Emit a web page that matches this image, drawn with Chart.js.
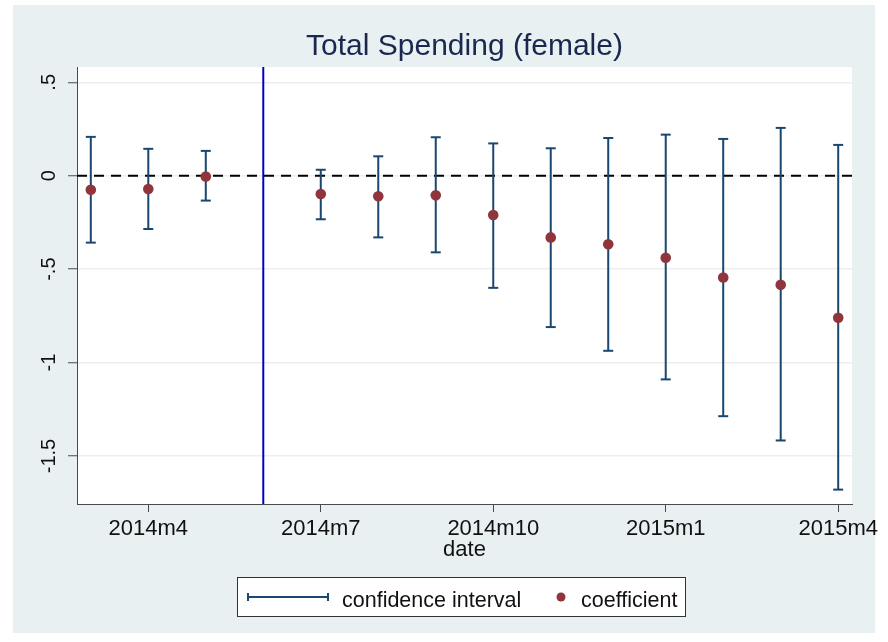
<!DOCTYPE html>
<html>
<head>
<meta charset="utf-8">
<title>Total Spending (female)</title>
<script src="https://cdn.jsdelivr.net/npm/chart.js@4/dist/chart.umd.min.js"></script>
<style>
    html, body { margin: 0; padding: 0; background: #ffffff; overflow: hidden; }
    canvas { display: block; }
</style>
</head>
<body>
<canvas id="grafico" width="888" height="642"></canvas>
<script>
// months 2014m3 .. 2015m4, index = months since 2014m3 (2014m6 is the omitted base month)
var months = ["2014m3", "2014m4", "2014m5", "2014m6", "2014m7", "2014m8", "2014m9",
              "2014m10", "2014m11", "2014m12", "2015m1", "2015m2", "2015m3", "2015m4"];
var coefficient = [-0.075, -0.071, -0.004, null, -0.098, -0.110, -0.105,
                   -0.210, -0.330, -0.367, -0.439, -0.545, -0.584, -0.760];
var ciLow = [-0.358, -0.285, -0.133, null, -0.233, -0.330, -0.410,
             -0.600, -0.810, -0.937, -1.090, -1.287, -1.417, -1.680];
var ciHigh = [0.208, 0.144, 0.133, null, 0.032, 0.104, 0.206,
              0.173, 0.147, 0.202, 0.220, 0.197, 0.256, 0.165];

var xTickValues = [1, 4, 7, 10, 13];
var xTickLabels = ["2014m4", "2014m7", "2014m10", "2015m1", "2015m4"];
var yTickValues = [-1.5, -1, -0.5, 0, 0.5];
var yTickLabels = ["-1.5", "-1", "-.5", "0", ".5"];

var eventMonth = 3;     // vertical line at 2014m6
var zeroLine = 0;
var xMin = -0.24, xMax = 13.24;
var yMin = -1.757, yMax = 0.582;

var fontFamily = "'Liberation Sans', Arial, Helvetica, sans-serif";
var colorCI = "#1a476f";
var colorCoef = "#90353b";
var colorBg = "#e8f0f2";
var colorAxis = "#4a4a4a";

function puntosCoeficiente()
{
    var data = [];
    for (var i = 0; i < months.length; i++) {
        if (coefficient[i] !== null) data.push({x: i, y: coefficient[i]});
    }
    return data;
}

function lineasIntervalo()
{
    // one segment per month, separated by null points
    var data = [];
    for (var i = 0; i < months.length; i++) {
        if (ciLow[i] === null) continue;
        data.push({x: i, y: ciLow[i]});
        data.push({x: i, y: ciHigh[i]});
        data.push({x: i, y: null});
    }
    return data;
}

function extremosIntervalo()
{
    var data = [];
    for (var i = 0; i < months.length; i++) {
        if (ciLow[i] === null) continue;
        data.push({x: i, y: ciLow[i]});
        data.push({x: i, y: ciHigh[i]});
    }
    return data;
}

var fondoPlugin = {
    id: "fondo",
    beforeDraw: function (chart) {
        var ctx = chart.ctx;
        var area = chart.chartArea;
        ctx.save();
        ctx.fillStyle = "#ffffff";
        ctx.fillRect(0, 0, chart.width, chart.height);
        ctx.fillStyle = colorBg;
        ctx.fillRect(13, 5, 862, 628);
        ctx.fillStyle = "#ffffff";
        ctx.fillRect(area.left, area.top, area.right - area.left, area.bottom - area.top);
        ctx.restore();
    }
};

var leyendaPlugin = {
    id: "leyenda",
    afterDraw: function (chart) {
        var ctx = chart.ctx;
        var cy = 597;
        ctx.save();
        ctx.fillStyle = "#ffffff";
        ctx.fillRect(237.5, 577.5, 448, 39);
        ctx.strokeStyle = "#333333";
        ctx.lineWidth = 1;
        ctx.strokeRect(237.5, 577.5, 448, 39);

        // confidence interval symbol
        ctx.strokeStyle = colorCI;
        ctx.lineWidth = 2;
        ctx.beginPath();
        ctx.moveTo(247, cy); ctx.lineTo(329, cy);
        ctx.moveTo(248, cy - 4); ctx.lineTo(248, cy + 4);
        ctx.moveTo(328, cy - 4); ctx.lineTo(328, cy + 4);
        ctx.stroke();

        // coefficient symbol
        ctx.fillStyle = colorCoef;
        ctx.beginPath();
        ctx.arc(561, cy, 4.5, 0, Math.PI * 2);
        ctx.fill();

        ctx.fillStyle = "#111111";
        ctx.font = "21.5px " + fontFamily;
        ctx.textBaseline = "alphabetic";
        ctx.textAlign = "left";
        ctx.fillText("confidence interval", 342, 607);
        ctx.fillText("coefficient", 581, 607);
        ctx.restore();
    }
};

function generarGrafico(canvas)
{
    var data = {
        datasets: [
            {
                label: "coefficient",
                data: puntosCoeficiente(),
                backgroundColor: colorCoef,
                borderWidth: 0,
                pointRadius: 5.3,
                order: 0
            },
            {
                label: "ci caps",
                data: extremosIntervalo(),
                pointStyle: "line",
                pointRadius: 5,
                borderColor: colorCI,
                borderWidth: 2,
                order: 1
            },
            {
                label: "confidence interval",
                data: lineasIntervalo(),
                showLine: true,
                spanGaps: false,
                borderColor: colorCI,
                borderWidth: 2,
                pointRadius: 0,
                order: 2
            },
            {
                label: "zero",
                data: [{x: xMin, y: zeroLine}, {x: xMax, y: zeroLine}],
                showLine: true,
                borderColor: "#000000",
                borderWidth: 2,
                borderDash: [10, 7],
                pointRadius: 0,
                order: 3
            },
            {
                label: "event",
                data: [{x: eventMonth, y: yMin}, {x: eventMonth, y: yMax}],
                showLine: true,
                borderColor: "#0000c8",
                borderWidth: 2,
                pointRadius: 0,
                order: 3
            }
        ]
    };

    var options = {
        responsive: false,
        devicePixelRatio: 1,
        animation: false,
        layout: {padding: {left: 13, right: 36, top: 0, bottom: 78}},
        plugins: {
            legend: {display: false},
            tooltip: {enabled: false},
            title: {
                display: true,
                text: "Total Spending (female)",
                fullSize: false,
                color: "#1a2850",
                font: {family: fontFamily, size: 30, weight: "normal"},
                padding: {top: 29, bottom: 2}
            }
        },
        scales: {
            x: {
                type: "linear",
                min: xMin,
                max: xMax,
                afterBuildTicks: function (scale) {
                    scale.ticks = xTickValues.map(function (v) { return {value: v}; });
                },
                afterFit: function (scale) {
                    scale.height = 60;
                    scale.paddingLeft = 0;
                    scale.paddingRight = 0;
                },
                grid: {
                    drawOnChartArea: false,
                    drawTicks: true,
                    tickLength: 8,
                    tickColor: colorAxis,
                    tickWidth: 1
                },
                border: {color: colorAxis, width: 1},
                ticks: {
                    autoSkip: false,
                    maxRotation: 0,
                    padding: 4,
                    color: "#111111",
                    font: {family: fontFamily, size: 22},
                    callback: function (value) {
                        return xTickLabels[xTickValues.indexOf(value)];
                    }
                },
                title: {
                    display: true,
                    text: "date",
                    color: "#111111",
                    font: {family: fontFamily, size: 22},
                    padding: {top: 0, bottom: 1}
                }
            },
            y: {
                type: "linear",
                min: yMin,
                max: yMax,
                afterBuildTicks: function (scale) {
                    scale.ticks = yTickValues.map(function (v) { return {value: v}; });
                },
                afterFit: function (scale) {
                    scale.width = 64;
                    scale.paddingTop = 0;
                    scale.paddingBottom = 0;
                },
                grid: {
                    color: colorBg,
                    lineWidth: 1.5,
                    drawTicks: true,
                    tickLength: 9,
                    tickColor: colorAxis,
                    tickWidth: 1
                },
                border: {color: colorAxis, width: 1},
                ticks: {
                    autoSkip: false,
                    minRotation: 90,
                    maxRotation: 90,
                    crossAlign: "center",
                    padding: 1,
                    color: "#111111",
                    font: {family: fontFamily, size: 20},
                    callback: function (value) {
                        return yTickLabels[yTickValues.indexOf(value)];
                    }
                }
            }
        }
    };

    new Chart(canvas, {
        type: "scatter",
        data: data,
        options: options,
        plugins: [fondoPlugin, leyendaPlugin]
    });
}

generarGrafico(document.getElementById("grafico"));
</script>
</body>
</html>
